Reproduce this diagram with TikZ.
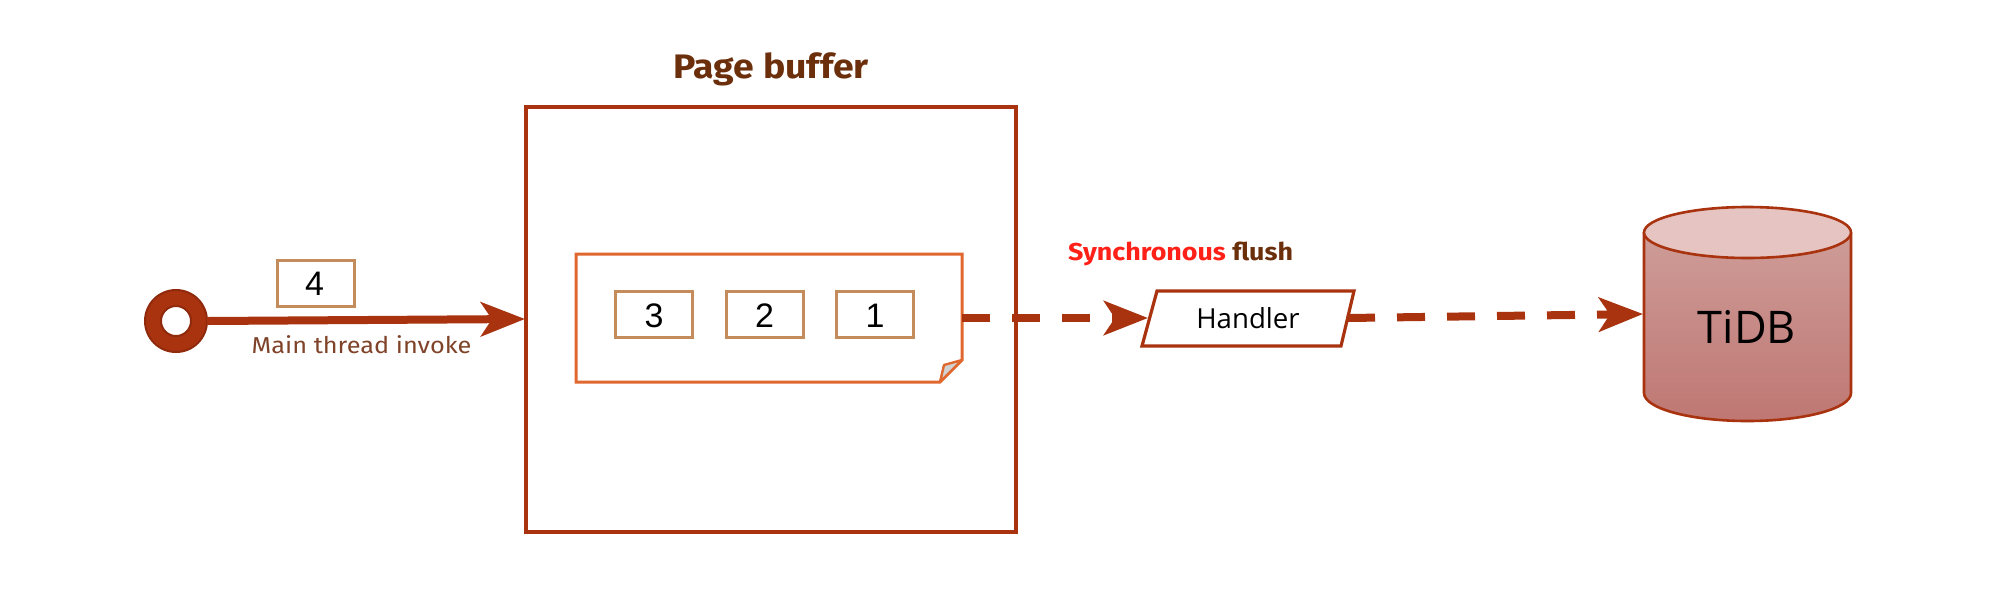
\documentclass[tikz,border=0pt]{standalone}
\usepackage{fontspec}
\setmainfont[FakeStretch=1.1]{Fira Sans}
\newfontfamily\digitfont{Liberation Sans}
\newfontfamily\labelfont{Open Sans}
\usetikzlibrary{arrows.meta}
\definecolor{rust}{HTML}{A9320F}
\definecolor{noteor}{HTML}{E0682F}
\definecolor{tanbox}{HTML}{C48C5A}
\definecolor{titlebr}{HTML}{6B2F0C}
\definecolor{mainbr}{HTML}{7F4329}
\definecolor{syncred}{HTML}{FF2018}
\definecolor{cyltop}{HTML}{E6C4C1}
\definecolor{cylup}{HTML}{CE9C98}
\definecolor{cyllow}{HTML}{BF7773}
\tikzset{
  every node/.style={inner sep=0pt,outer sep=0pt},
  bigtip/.style={-{Stealth[length=22pt,width=17pt,inset=5.5pt]}},
  flow/.style={draw=rust,line width=4pt,bigtip},
  dashflow/.style={flow,dash pattern=on 14pt off 11pt},
  outerbox/.style={draw=rust,line width=1.6pt,minimum width=245pt,minimum height=212.5pt},
  itembox/.style={draw=tanbox,fill=white,line width=1.5pt,minimum width=38.5pt,minimum height=23pt},
  digit/.style={font=\digitfont\fontsize{17}{17}\selectfont,text=black,anchor=base},
  anchorbox/.style={minimum width=193pt,minimum height=64pt},
}
\begin{document}
\begin{tikzpicture}[x=0.5pt,y=-0.5pt]
\useasboundingbox[fill=white] (0,0) rectangle (1999,607);

% outer page buffer
\node[outerbox] (buffer) at (771,319.5) {};
\node[anchor=base,font=\bfseries\fontsize{17}{17}\selectfont,text=titlebr] (title) at (771,78) {Page buffer};

% note
\node[anchorbox] (note) at (769,318) {};
\draw[noteor,line width=1.5pt,fill=white,line join=miter] (576,254) -- (962,254) -- (962,360) -- (940,382) -- (576,382) -- cycle;
\draw[noteor,line width=1.2pt,fill=black!18,line join=round] (940,382) -- (944,365) -- (962,360) -- cycle;

% items inside
\node[itembox] (b3) at (654,314) {};
\node[itembox] (b2) at (764.5,314) {};
\node[itembox] (b1) at (875,314) {};
\node[digit] (t3) at (654,327) {3};
\node[digit] (t2) at (764.5,327) {2};
\node[digit] (t1) at (875,327) {1};

% start ring
\node[circle,draw=rust!85!black,line width=1pt,fill=rust,minimum size=31pt] (ring) at (176,321) {};
\node[circle,draw=rust!85!black,line width=1pt,fill=white,minimum size=15pt] (hole) at (176,321) {};

% floating item 4
\node[itembox] (b4) at (315.5,283.5) {};
\node[digit] (t4) at (314.5,295) {4};

% arrow into buffer
\coordinate (inlet) at (525,319);
\draw[flow] (ring.east) -- (inlet);
\node[anchor=base,font=\fontsize{11.5}{11.5}\selectfont,text=mainbr] (mainlabel) at (361.5,353) {Main thread invoke};

% handler
\node (handler) at (1248,318.5) {};
\draw[rust,line width=1.6pt,fill=white,line join=miter] (1157,291) -- (1354,291) -- (1341,346) -- (1142,346) -- cycle;
\node[anchor=base,font=\labelfont\fontsize{13.8}{13.8}\selectfont,text=black] (handlertext) at (1248,328) {Handler};
\coordinate (hin) at (1148,318);
\coordinate (hout) at (1347,318);
\node[anchor=base west,font=\bfseries\fontsize{12.2}{12.2}\selectfont] (sync) at (1068,260) {\textcolor{syncred}{Synchronous} \textcolor{titlebr}{flush}};

% cylinder
\shade[top color=cylup,bottom color=cyllow] (1644,232.5) -- (1644,393) arc[start angle=180,end angle=360,x radius=103.5,y radius=-28] -- (1851,232.5) -- cycle;
\draw[rust,line width=1.3pt] (1644,232.5) -- (1644,393) arc[start angle=180,end angle=360,x radius=103.5,y radius=-28] -- (1851,232.5);
\draw[rust,line width=1.3pt,fill=cyltop] (1747.5,232.5) ellipse[x radius=103.5,y radius=25.5];
\node[anchor=base,font=\labelfont\fontsize{22.5}{22.5}\selectfont,text=black] (tidbtext) at (1747,343) {TiDB};
\coordinate (tin) at (1643,314);

% dashed connectors
\coordinate (nout) at (962,318);
\draw[dashflow] (nout) -- (hin);
\draw[dashflow] (hout) -- (tin);
\end{tikzpicture}
\end{document}
